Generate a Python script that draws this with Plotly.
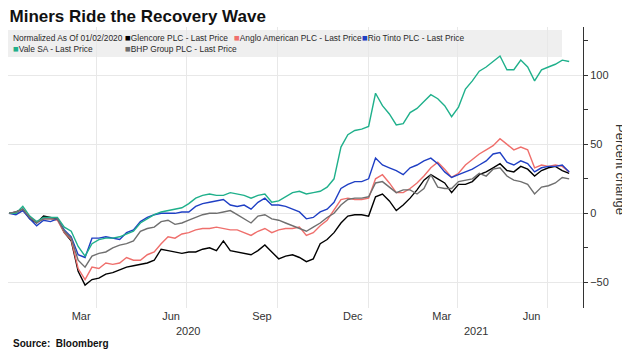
import pandas as pd
import plotly.graph_objects as go

# Weekly observation dates (Fridays), Jan 2020 - Jul 2021
dates = pd.date_range("2020-01-03", periods=82, freq="7D")

glencore = [0, 1, 3, -4, -7, -2, -3, -4, -14, -20, -42, -52, -48, -47, -44, -43, -41, -39, -38, -37,
            -36, -34, -26, -27, -28, -29, -28, -28, -26, -25, -27, -20, -27, -28, -29, -30, -27, -23, -28, -33,
            -31, -30, -32, -35, -33, -22, -19, -14, -7, -2, -1, -1, -2, 12, 14, 9, 2, 6, 11, 17,
            24, 28, 25, 22, 15, 21, 21, 23, 28, 30, 33, 36, 31, 30, 34, 32, 27, 31, 33, 34,
            31, 29]
anglo = [0, 0, 2, -3, -6, -4, -4, -5, -14, -19, -40, -48, -39, -40, -36, -37, -36, -32, -34, -34,
         -30, -28, -22, -17, -18, -15, -14, -12, -11, -11, -10, -11, -12, -12, -14, -16, -13, -11, -14, -12,
         -11, -11, -10, -16, -14, -9, -5, 3, 10, 11, 10, 10, 11, 25, 28, 22, 15, 15, 18, 22,
         27, 33, 37, 32, 26, 29, 35, 39, 43, 46, 49, 54, 50, 46, 48, 46, 33, 35, 34, 35,
         34, 30]
rio = [0, -1, 2, -4, -9, -5, -6, -4, -12, -17, -30, -32, -18, -18, -17, -18, -19, -14, -12, -6,
       -3, -1, 0, 0, 0, 1, 1, 5, 7, 8, 9, 10, 6, 5, 6, 3, 8, 11, 6, 6,
       5, 3, 1, -4, -3, 1, 3, 8, 18, 21, 23, 23, 25, 40, 35, 33, 31, 28, 33, 35,
       38, 40, 36, 30, 26, 28, 30, 32, 35, 38, 43, 44, 37, 35, 38, 36, 30, 33, 34, 34,
       35, 30]
vale = [0, 0, 5, -2, -6, -3, -3, -3, -10, -13, -24, -31, -22, -19, -18, -18, -17, -15, -13, -7,
        -4, -1, 1, 2, 3, 4, 7, 11, 13, 14, 13, 13, 15, 14, 13, 11, 13, 14, 8, 9,
        12, 15, 16, 14, 15, 16, 19, 25, 48, 57, 60, 61, 63, 87, 78, 72, 64, 65, 73, 76,
        81, 86, 83, 78, 70, 77, 90, 96, 103, 106, 110, 114, 104, 104, 111, 106, 96, 104, 106, 108,
        111, 110]
bhp = [0, 1, 3, -3, -7, -4, -4, -4, -13, -18, -34, -39, -31, -29, -28, -25, -23, -22, -20, -13,
       -11, -10, -6, -5, -8, -7, -5, -3, -1, 0, 0, 1, 2, -1, -4, -7, -2, -1, -4, -5,
       -7, -9, -11, -13, -10, -7, -3, 0, 6, 10, 11, 11, 12, 22, 23, 19, 15, 17, 17, 14,
       18, 28, 19, 18, 18, 23, 24, 25, 29, 27, 32, 33, 27, 24, 23, 21, 14, 19, 20, 22,
       26, 25]

series_names = ["Glencore PLC - Last Price", "Anglo American PLC - Last Price",
                "Rio Tinto PLC - Last Price", "Vale SA - Last Price", "BHP Group PLC - Last Price"]
series_values = [glencore, anglo, rio, vale, bhp]
series_colors = ["#000000", "#ef6f6c", "#1f3fc4", "#1fb08b", "#6f6f6f"]

month_ticks = ["2020-03-16", "2020-06-15", "2020-09-15", "2020-12-16", "2021-03-16", "2021-06-15"]
month_labels = ["Mar", "Jun", "Sep", "Dec", "Mar", "Jun"]
quarter_lines = ["2020-04-01", "2020-07-01", "2020-10-01", "2021-01-01", "2021-04-01", "2021-07-01"]
year_pos = ["2020-07-02", "2021-04-20"]
year_labels = ["2020", "2021"]

SANS = "Liberation Sans, Arial, sans-serif"

fig = go.Figure()
for name, vals, col in zip(series_names, series_values, series_colors):
    fig.add_trace(go.Scatter(x=dates, y=vals, mode="lines", name=name,
                             line=dict(color=col, width=1.4), showlegend=False))

# the page body has an 8px margin, so work in reference pixels minus 8
OFF = 8
W, H = 630 - OFF, 356 - OFF
L, R, T, B = 8 - OFF, 583 - OFF, 27 - OFF, 308 - OFF


def px(xp):
    return (xp - OFF - L) / (R - L)


def py(yp):
    return (B - (yp - OFF)) / (B - T)


fig.update_layout(
    width=W, height=H,
    margin=dict(l=L, r=W - R, t=T, b=H - B, autoexpand=False),
    plot_bgcolor="white", paper_bgcolor="white",
    title=dict(text="<b>Miners Ride the Recovery Wave</b>", x=1.5 / W, xanchor="left",
               xref="container", y=1 - (16.5 - OFF) / H, yanchor="middle", yref="container",
               font=dict(family=SANS, size=17, color="#111111")),
    xaxis=dict(
        type="date", range=["2020-01-02", "2021-08-06"],
        tickmode="array", tickvals=month_ticks, ticktext=month_labels,
        showgrid=False, ticks="", showline=False, zeroline=False,
        tickfont=dict(family=SANS, size=11, color="#333333"),
        minor=dict(tickmode="array", tickvals=quarter_lines, showgrid=True,
                   gridcolor="#e8e8e8", gridwidth=1, ticks=""),
    ),
    yaxis=dict(
        side="right", range=[-68.6, 135], tickmode="linear", tick0=0, dtick=50,
        showgrid=True, gridcolor="#e8e8e8", gridwidth=1, zeroline=False,
        showline=True, linecolor="#333333", linewidth=1,
        ticks="outside", ticklen=4, tickcolor="#333333",
        tickfont=dict(family=SANS, size=11, color="#333333"),
        minor=dict(dtick=25, tick0=0, ticks="outside", ticklen=4, tickcolor="#333333", showgrid=False),
    ),
)

# legend box
fig.add_shape(type="rect", xref="paper", yref="paper", x0=0, x1=px(562), y0=py(57), y1=py(30),
              fillcolor="#efefef", line=dict(width=0), layer="between")

legend_items = [
    ("Normalized As Of 01/02/2020", None, 12, 37.5),
    ("Glencore PLC - Last Price", series_colors[0], 124, 37.5),
    ("Anglo American PLC - Last Price", series_colors[1], 233, 37.5),
    ("Rio Tinto PLC - Last Price", series_colors[2], 361, 37.5),
    ("Vale SA - Last Price", series_colors[3], 12, 48.5),
    ("BHP Group PLC - Last Price", series_colors[4], 124, 48.5),
]
for text, col, xx, yy in legend_items:
    t = text if col is None else f'<span style="color:{col};font-size:9.5px">■</span>{text}'
    fig.add_annotation(text=t, xref="paper", yref="paper", x=px(xx), y=py(yy),
                       xanchor="left", yanchor="middle", showarrow=False, borderpad=0,
                       font=dict(family=SANS, size=8.4, color="#2a2a2a"))

for yl, yp in zip(year_labels, year_pos):
    fig.add_annotation(text=yl, xref="x", yref="paper", x=yp, y=py(331), xanchor="center",
                       yanchor="middle", showarrow=False,
                       font=dict(family=SANS, size=11, color="#333333"))

fig.add_annotation(text="Percent change", xref="paper", yref="paper", x=px(620), y=py(169),
                   xanchor="center", yanchor="middle", textangle=90, showarrow=False,
                   font=dict(family=SANS, size=13, color="#333333"))

fig.add_annotation(text="<b>Source:  Bloomberg</b>", xref="paper", yref="paper", x=px(11), y=py(343),
                   xanchor="left", yanchor="middle", showarrow=False,
                   font=dict(family=SANS, size=10, color="#111111"))

fig.write_html("out.html")
